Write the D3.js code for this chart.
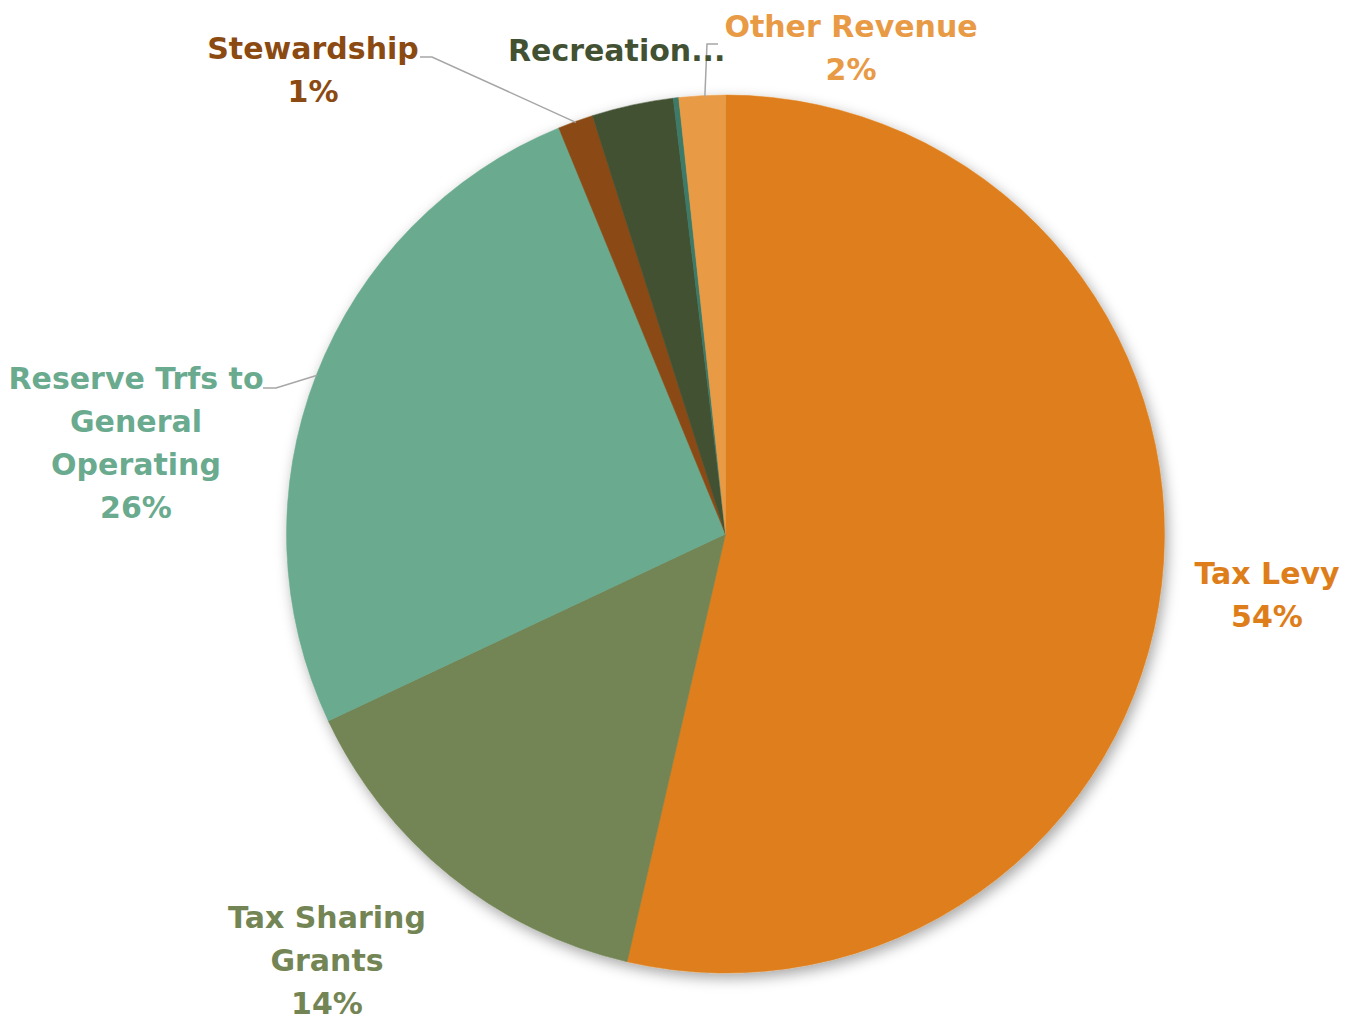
<!DOCTYPE html>
<html>
<head>
<meta charset="utf-8">
<script src="https://cdn.jsdelivr.net/npm/d3@7"></script>
<style>
  html, body { margin: 0; padding: 0; background: #ffffff; }
  svg { display: block; }
  text { font-family: "DejaVu Sans", sans-serif; font-weight: bold; }
</style>
</head>
<body>
<svg id="chart" width="1351" height="1024"></svg>
<script>
// Revenue sources (share of total, %), clockwise from 12 o'clock
const categories = ["Tax Levy", "Tax Sharing Grants", "Reserve Trfs to General Operating",
                    "Stewardship", "Recreation", "Sponsorships", "Other Revenue"];
const shares     = [53.6, 14.4, 25.8, 1.3, 3.0, 0.2, 1.7];
const colors     = ["#DE7E1A", "#738554", "#6AAA8E", "#8B4A12", "#435133", "#3C7A68", "#E89A45"];

// Data label text lines (null = the category carries no label)
const labelLines = [
  ["Tax Levy"],
  ["Tax Sharing", "Grants"],
  ["Reserve Trfs to", "General", "Operating"],
  ["Stewardship"],
  ["Recreation..."],
  null,
  ["Other Revenue"]
];
const showPercent = [true, true, true, true, false, false, true];

const W = 1351, H = 1024;
const cx = 725.5, cy = 534, radius = 439;
const lineH = 43;

// Label placement: anchor x, first baseline, optional leader line
const labelLayout = [
  { x: 1267, y: 584, anchor: "middle" },
  { x: 327, y: 928, anchor: "middle" },
  { x: 136, y: 389, anchor: "middle",
    leader: { from: [263, 388], elbow: [276, 388], angleDeg: null } },
  { x: 313, y: 59, anchor: "middle",
    leader: { from: [420, 57], elbow: [432, 57], angleDeg: null } },
  { x: 508, y: 61, anchor: "start",
    leader: { from: [718, 44], elbow: [707, 44], angleDeg: 357.3 } },
  null,
  { x: 851, y: 37, anchor: "middle" }
];

const data = categories.map((c, i) => ({ name: c, value: shares[i], color: colors[i], i }));

const svg = d3.select("#chart");

// Soft drop shadow under the pie
const defs = svg.append("defs");
const f = defs.append("filter").attr("id", "pieShadow")
  .attr("x", "-10%").attr("y", "-10%").attr("width", "120%").attr("height", "120%");
f.append("feDropShadow").attr("dx", 3).attr("dy", 5).attr("stdDeviation", 7)
  .attr("flood-color", "#000").attr("flood-opacity", 0.35);

const pie = d3.pie().value(d => d.value).sort(null);
const arcs = pie(data);
const arc = d3.arc().innerRadius(0).outerRadius(radius);

const g = svg.append("g").attr("transform", `translate(${cx},${cy})`);
g.append("g").attr("filter", "url(#pieShadow)")
  .selectAll("path").data(arcs).join("path")
  .attr("d", arc)
  .attr("fill", d => d.data.color)
  .attr("stroke", d => d.data.color)
  .attr("stroke-width", 0.5);

// Point on the pie rim at a given clockwise angle (radians, 0 = top)
function rimPoint(a, r) {
  return [cx + r * Math.sin(a), cy - r * Math.cos(a)];
}

// Leader lines
arcs.forEach((d, i) => {
  const lay = labelLayout[i];
  if (!lay || !lay.leader) return;
  const L = lay.leader;
  const a = L.angleDeg != null ? L.angleDeg * Math.PI / 180 : (d.startAngle + d.endAngle) / 2;
  const end = rimPoint(a, radius - 1);
  svg.append("polyline")
    .attr("points", [L.from, L.elbow, end].map(p => p.join(",")).join(" "))
    .attr("fill", "none")
    .attr("stroke", "#A6A6A6")
    .attr("stroke-width", 1.5);
});

// Data labels: category name lines plus rounded percentage
const pctFmt = v => Math.round(v) + "%";
arcs.forEach((d, i) => {
  const lay = labelLayout[i];
  if (!lay || !labelLines[i]) return;
  const lines = labelLines[i].slice();
  if (showPercent[i]) lines.push(pctFmt(d.data.value));
  const t = svg.append("text")
    .attr("x", lay.x).attr("y", lay.y)
    .attr("text-anchor", lay.anchor)
    .attr("fill", d.data.color)
    .attr("font-size", 30);
  lines.forEach((s, k) => {
    t.append("tspan").attr("x", lay.x).attr("y", lay.y + k * lineH).text(s);
  });
});
</script>
</body>
</html>
